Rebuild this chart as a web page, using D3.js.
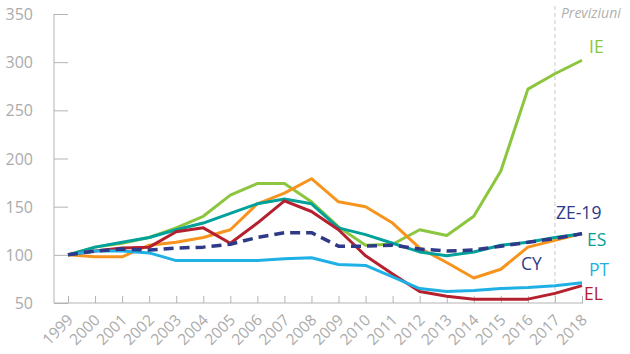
<!DOCTYPE html>
<html>
<head>
<meta charset="utf-8">
<script src="https://cdn.jsdelivr.net/npm/d3@7"></script>
<style>
  body { margin: 0; background: #fff; }
  svg { font-family: 'Open Sans', 'DejaVu Sans', sans-serif; }
  .tick-label { fill: #ababab; }
</style>
</head>
<body>
<svg id="chart"></svg>
<script>
const years = [1999, 2000, 2001, 2002, 2003, 2004, 2005, 2006, 2007, 2008,
  2009, 2010, 2011, 2012, 2013, 2014, 2015, 2016, 2017, 2018];

const IE = [100, 108, 112, 118, 128, 140, 162, 174, 174, 155, 129, 110, 111, 126, 120, 140, 187, 272, 288, 302];
const ES = [100, 108, 113, 118, 126, 133, 143, 153, 158, 153, 128, 121, 112, 103, 99, 103, 110, 113, 118, 122];
const CY = [100, 98, 98, 110, 113, 118, 126, 153, 164, 179, 155, 150, 133, 107, 92, 76, 85, 108, 115, 122];
const EL = [100, 104, 107, 108, 124, 128, 112, 133, 156, 145, 126, 99, 80, 62, 57, 54, 54, 54, 60, 68];
const PT = [100, 104, 104, 102, 94, 94, 94, 94, 96, 97, 90, 89, 77, 65, 62, 63, 65, 66, 68, 71];
const ZE19 = [100, 104, 106, 105, 107, 108, 111, 118, 123, 123, 109, 109, 110, 106, 104, 105, 109, 113, 117, 122];

const yTicks = [50, 100, 150, 200, 250, 300, 350];

const series = [
  {name: 'IE', values: IE, color: '#8cc63f', label: 'IE', lx: 589, ly: 53, lc: '#8cc63f'},
  {name: 'CY', values: CY, color: '#f7941d', label: 'CY', lx: 521, ly: 270, lc: '#2e3a87'},
  {name: 'ES', values: ES, color: '#00a19a', label: 'ES', lx: 587, ly: 246, lc: '#00a19a'},
  {name: 'EL', values: EL, color: '#b5202e', label: 'EL', lx: 584, ly: 300, lc: '#b5202e'},
  {name: 'PT', values: PT, color: '#1fb1e6', label: 'PT', lx: 589, ly: 276, lc: '#1fb1e6'},
  {name: 'ZE-19', values: ZE19, color: '#2e3a87', label: 'ZE-19', lx: 556, ly: 219, lc: '#2e3a87', dash: '10,6'}
];

const W = 630, H = 354;
const svg = d3.select('#chart').attr('width', W).attr('height', H);

const x = d3.scaleLinear().domain([1999, 2018]).range([68, 582]);
const y = d3.scaleLinear().domain([50, 350]).range([303, 14]);

// y axis
const yAxisG = svg.append('g').attr('transform', 'translate(54,0)')
  .call(d3.axisRight(y).tickValues(yTicks).tickSize(14).tickFormat(''));
yAxisG.selectAll('line').attr('stroke', '#b3b3b3');
yAxisG.select('.domain').attr('stroke', '#b3b3b3').attr('d', `M0,${y(350)}V${y(50)}`);

svg.append('g').selectAll('text')
  .data(yTicks)
  .enter().append('text')
  .attr('class', 'tick-label')
  .attr('x', 33)
  .attr('y', d => y(d) + 6)
  .attr('text-anchor', 'end')
  .attr('font-size', 16)
  .text(d => d);

// x axis
const xAxisG = svg.append('g').attr('transform', 'translate(0,303)')
  .call(d3.axisTop(x).tickValues(years).tickSize(7).tickFormat(''));
xAxisG.selectAll('line').attr('stroke', '#b3b3b3');
xAxisG.select('.domain').attr('stroke', '#b3b3b3').attr('d', 'M54,0H583');

svg.append('g').selectAll('text')
  .data(years)
  .enter().append('text')
  .attr('class', 'tick-label')
  .attr('font-size', 15.5)
  .attr('text-anchor', 'end')
  .attr('transform', d => `translate(${x(d) + 6},${321}) rotate(-45)`)
  .text(d => d);

// forecast line
svg.append('line')
  .attr('x1', x(2017)).attr('x2', x(2017))
  .attr('y1', 6).attr('y2', 303)
  .attr('stroke', '#c8c8c8')
  .attr('stroke-dasharray', '4,3');

svg.append('text')
  .attr('x', x(2017) + 6).attr('y', 18)
  .attr('font-size', 14)
  .attr('font-style', 'italic')
  .attr('fill', '#b0b0b0')
  .text('Previziuni');

const line = d3.line()
  .x((d, i) => x(years[i]))
  .y(d => y(d));

svg.append('g').selectAll('path')
  .data(series)
  .enter().append('path')
  .attr('d', d => line(d.values))
  .attr('fill', 'none')
  .attr('stroke', d => d.color)
  .attr('stroke-width', d => d.dash ? 3.5 : 3)
  .attr('stroke-dasharray', d => d.dash || null)
  .attr('stroke-linejoin', 'round');

svg.append('g').selectAll('text')
  .data(series)
  .enter().append('text')
  .attr('x', d => d.lx)
  .attr('y', d => d.ly)
  .attr('font-size', 17.5)
  .attr('fill', d => d.lc)
  .text(d => d.label);
</script>
</body>
</html>
